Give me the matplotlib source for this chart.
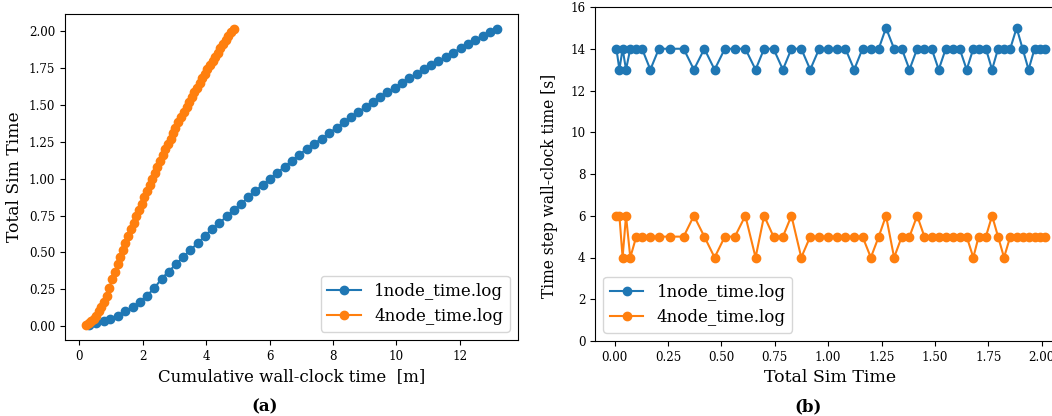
import numpy as np
import matplotlib
matplotlib.use("Agg")
import matplotlib.pyplot as plt

plt.rcParams['font.family'] = ['DejaVu Serif']

# Simulation time at each logged step (shared by both runs)
sim_time = [0.008, 0.022, 0.037, 0.053, 0.073, 0.101, 0.128, 0.167, 0.207, 0.259,
            0.323, 0.371, 0.420, 0.468, 0.516, 0.563, 0.612, 0.660, 0.700, 0.744,
            0.788, 0.828, 0.874, 0.916, 0.958, 1.000, 1.041, 1.081, 1.122, 1.161,
            1.200, 1.237, 1.271, 1.309, 1.345, 1.381, 1.417, 1.451, 1.485, 1.518,
            1.551, 1.583, 1.616, 1.649, 1.680, 1.705, 1.739, 1.768, 1.796, 1.824,
            1.853, 1.883, 1.911, 1.939, 1.967, 1.992, 2.014]

# Time-step wall-clock time [s]
step_1node = [14, 13, 14, 13, 14, 14, 14, 13, 14, 14,
              14, 13, 14, 13, 14, 14, 14, 13, 14, 14,
              13, 14, 14, 13, 14, 14, 14, 14, 13, 14,
              14, 14, 15, 14, 14, 13, 14, 14, 14, 13,
              14, 14, 14, 13, 14, 14, 14, 13, 14, 14,
              14, 15, 14, 13, 14, 14, 14]
step_4node = [6, 6, 4, 6, 4, 5, 5, 5, 5, 5,
              5, 6, 5, 4, 5, 5, 6, 4, 6, 5,
              5, 6, 4, 5, 5, 5, 5, 5, 5, 5,
              4, 5, 6, 4, 5, 5, 6, 5, 5, 5,
              5, 5, 5, 5, 4, 5, 5, 6, 5, 4,
              5, 5, 5, 5, 5, 5, 5]

# start-up time before the first step [s]
startup_1node = 5
startup_4node = 6

labels = ['1node_time.log', '4node_time.log']

cum_1node = (startup_1node + np.cumsum(step_1node)) / 60.0
cum_4node = (startup_4node + np.cumsum(step_4node)) / 60.0

W, H = 1052, 416
fig = plt.figure(figsize=(W / 100, H / 100), dpi=100)

ax1 = fig.add_axes([65 / W, (H - 340) / H, (518 - 65) / W, (340 - 14) / H])
ax2 = fig.add_axes([595 / W, (H - 341) / H, (1066 - 595) / W, (341 - 7) / H])

lw = 1.5
ms = 6
ax1.plot(cum_1node, sim_time, '-o', color='#1f77b4', lw=lw, ms=ms, label=labels[0])
ax1.plot(cum_4node, sim_time, '-o', color='#ff7f0e', lw=lw, ms=ms, label=labels[1])
ax1.set_xlabel('Cumulative wall-clock time  [m]', fontsize=12)
ax1.set_ylabel('Total Sim Time', fontsize=12.3)
ax1.tick_params(labelsize=8.6)
ax1.legend(loc='lower right', fontsize=12)

ax2.plot(sim_time, step_1node, '-o', color='#1f77b4', lw=lw, ms=ms, label=labels[0])
ax2.plot(sim_time, step_4node, '-o', color='#ff7f0e', lw=lw, ms=ms, label=labels[1])
ax2.set_ylim(0, 16)
ax2.set_xlabel('Total Sim Time', fontsize=12.5)
ax2.set_ylabel('Time step wall-clock time [s]', fontsize=11.2)
ax2.yaxis.set_label_coords(-0.078, 0.465)
ax2.tick_params(labelsize=8.6)
ax2.legend(loc='lower left', fontsize=12)

fig.text(265 / W, 1 - 407 / H, '(a)', ha='center', va='center', fontsize=12, fontweight='bold')
fig.text(808 / W, 1 - 407 / H, '(b)', ha='center', va='center', fontsize=12, fontweight='bold')

fig.savefig('out.png', dpi=100)
